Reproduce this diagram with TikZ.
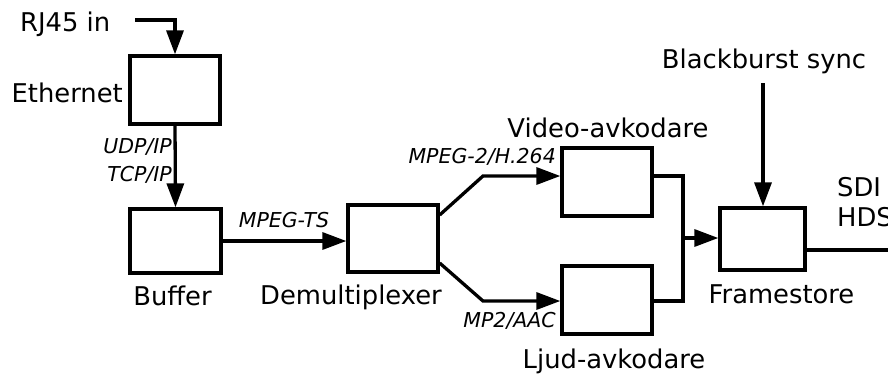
\documentclass[tikz,border=0pt]{standalone}
\usepackage{fontspec}
\setmainfont{DejaVu Sans}
\usetikzlibrary{arrows.meta}
\begin{document}
\begin{tikzpicture}[x=1pt,y=-1pt,
  blk/.style={draw,line width=3.3pt,minimum width=#1,inner sep=0pt},
  conn/.style={line width=3.3pt},
  arr/.style={conn,-{Triangle[length=24pt,width=17pt]}},
  lbl/.style={inner sep=0pt,font=\fontsize{25.8}{30}\selectfont},
  ilbl/.style={inner sep=0pt,font=\fontsize{20.5}{26}\selectfont\itshape}]
\useasboundingbox (0,0) rectangle (888,376);
\clip (0,0) rectangle (888,376);
% boxes
\node[blk=90pt,minimum height=68pt] (eth) at (175,90) {};
\node[blk=91pt,minimum height=64pt] (buf) at (175.5,241) {};
\node[blk=90pt,minimum height=67pt] (dmx) at (393,238.5) {};
\node[blk=90pt,minimum height=68pt] (vid) at (607,182) {};
\node[blk=90pt,minimum height=68pt] (aud) at (607,300) {};
\node[blk=85pt,minimum height=62pt] (fs) at (762.5,239) {};
% labels
\node[lbl,anchor=base west] (rj) at (20,31) {RJ45 in};
\node[lbl,anchor=base east] (ethl) at (123,102) {Ethernet};
\node[lbl,anchor=base] (bufl) at (172.5,305) {Buffer};
\node[lbl,anchor=base] (dmxl) at (351,304) {Demultiplexer};
\node[lbl,anchor=base] (vidl) at (608,137) {Video-avkodare};
\node[lbl,anchor=base] (audl) at (614,368) {Ljud-avkodare};
\node[lbl,anchor=base] (fsl) at (781.5,303) {Framestore};
\node[lbl,anchor=base] (bbl) at (764,68) {Blackburst sync};
\node[lbl,anchor=base west] (sdi) at (837,196) {SDI};
\node[lbl,anchor=base west] (hds) at (837,226) {HDS};
\node[ilbl,anchor=base east] (udp) at (172,153) {UDP/IP};
\node[ilbl,anchor=base east] (tcp) at (172,181) {TCP/IP};
\node[ilbl,anchor=base] (mts) at (284,227) {MPEG-TS};
\node[ilbl,anchor=base east] (m2) at (556,163) {MPEG-2/H.264};
\node[ilbl,anchor=base east] (mp2) at (556,327) {MP2/AAC};
% coordinates
\coordinate (rjs) at (135,20);
\coordinate (bbs) at (763,83);
\coordinate (ve) at (683,176);
\coordinate (ae) at (683,301);
\coordinate (jn) at (683,238);
\coordinate (out) at (912,250);
% connectors
\draw[arr] (rjs) -| (eth.north);
\draw[arr] (eth.south) -- (buf.north);
\draw[arr] (buf.east) -- (buf.east -| dmx.west);
\draw[arr] ([yshift=23.5pt]dmx.east) -- (483,176) -- ([yshift=6pt]vid.west);
\draw[arr] ([yshift=-24.5pt]dmx.east) -- (483,301) -- ([yshift=-1pt]aud.west);
\draw[conn] ([yshift=6pt]vid.east) -- (ve) -- (ae) -- ([yshift=-1pt]aud.east);
\draw[arr] (jn) -- (jn -| fs.west);
\draw[arr] (bbs) -- (bbs |- fs.north);
\draw[arr] ([yshift=-11pt]fs.east) -- (out);
\end{tikzpicture}
\end{document}
